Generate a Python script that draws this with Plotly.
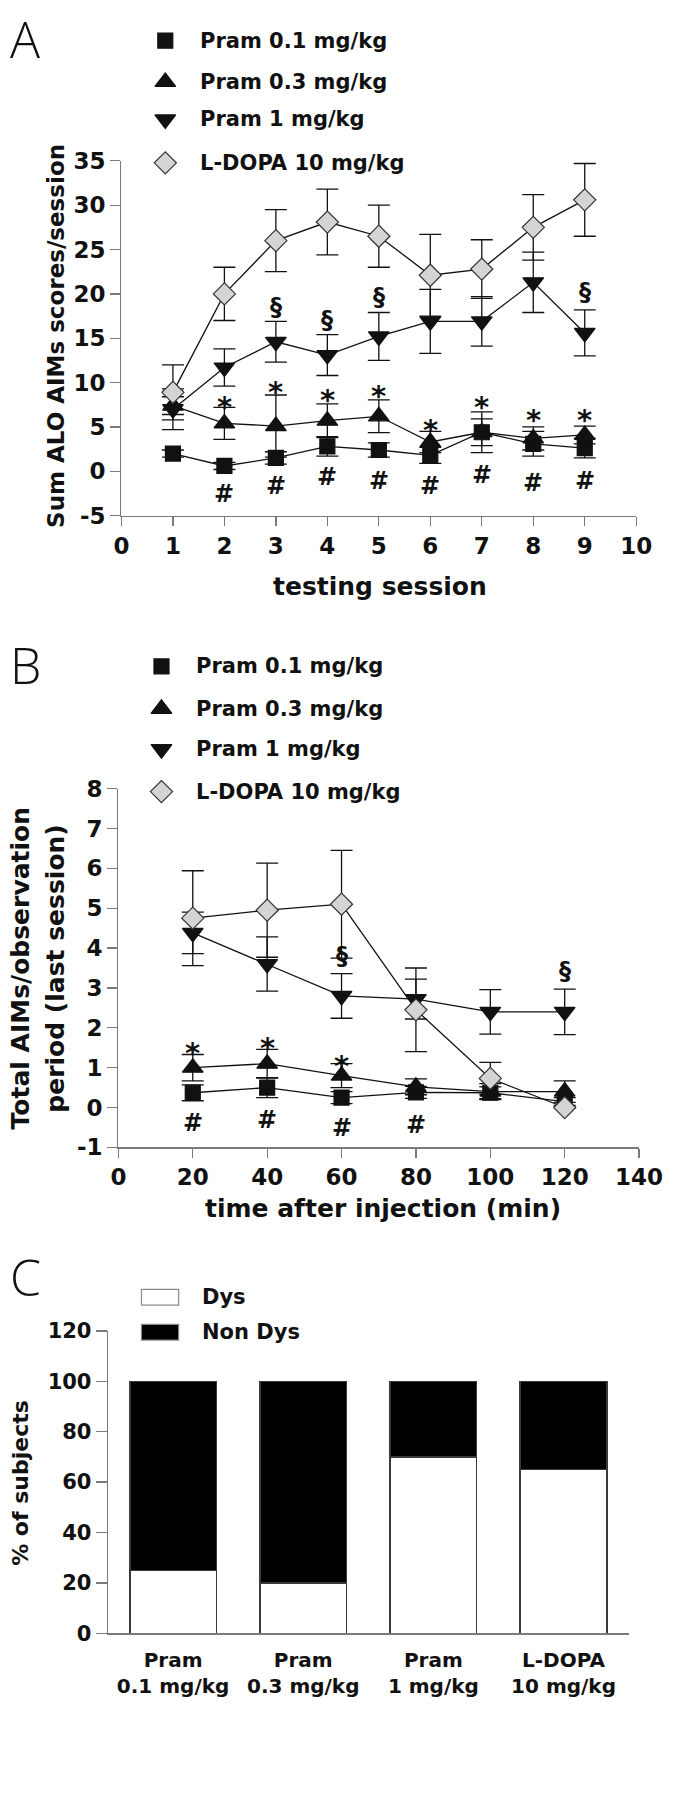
import plotly.graph_objects as go

W, H = 685, 1800

# ---------------- data ----------------
group_names = ["Pram 0.1 mg/kg", "Pram 0.3 mg/kg", "Pram 1 mg/kg", "L-DOPA 10 mg/kg"]

# Panel A : testing session
sessions = [1, 2, 3, 4, 5, 6, 7, 8, 9]
a_pram01 = [2.0, 0.6, 1.5, 2.8, 2.4, 1.8, 4.4, 3.1, 2.6]
a_pram01_sem = [0.4, 0.4, 0.7, 1.1, 0.8, 0.9, 1.5, 1.4, 1.1]
a_pram03 = [7.4, 5.4, 5.1, 5.7, 6.2, 3.3, 4.4, 3.7, 4.1]
a_pram03_sem = [1.0, 1.8, 3.5, 1.9, 1.85, 1.2, 2.3, 1.3, 1.0]
a_pram1 = [7.0, 11.7, 14.6, 13.1, 15.2, 16.9, 16.9, 21.3, 15.6]
a_pram1_sem = [2.3, 2.1, 2.3, 2.3, 2.7, 3.6, 2.8, 3.4, 2.6]
a_ldopa = [8.9, 20.0, 26.0, 28.1, 26.5, 22.1, 22.8, 27.5, 30.6]
a_ldopa_sem = [3.1, 3.0, 3.5, 3.7, 3.5, 4.6, 3.3, 3.7, 4.1]

a_sect_x = [3, 4, 5, 9]
a_sect_y = [18.5, 17.0, 19.6, 20.2]
a_star_x = [2, 3, 4, 5, 6, 7, 8, 9]
a_star_y = [8.1, 9.8, 8.9, 9.4, 5.6, 8.1, 6.7, 6.7]
a_hash_x = [2, 3, 4, 5, 6, 7, 8, 9]
a_hash_y = [-2.6, -1.7, -0.7, -1.1, -1.7, -0.4, -1.3, -1.1]

# Panel B : time after injection
times = [20, 40, 60, 80, 100, 120]
b_pram01 = [0.37, 0.50, 0.25, 0.38, 0.37, 0.15]
b_pram01_sem = [0.20, 0.25, 0.15, 0.15, 0.15, 0.10]
b_pram03 = [1.00, 1.10, 0.80, 0.52, 0.40, 0.40]
b_pram03_sem = [0.33, 0.36, 0.30, 0.20, 0.20, 0.27]
b_pram1 = [4.38, 3.60, 2.80, 2.72, 2.40, 2.40]
b_pram1_sem = [0.52, 0.68, 0.56, 0.50, 0.56, 0.57]
b_ldopa = [4.75, 4.95, 5.10, 2.45, 0.73, 0.00]
b_ldopa_sem = [1.19, 1.18, 1.35, 1.05, 0.40, 0.00]

b_star_x = [20, 40, 60]
b_star_y = [1.58, 1.70, 1.25]
b_hash_x = [20, 40, 60, 80]
b_hash_y = [-0.40, -0.32, -0.52, -0.44]
b_sect_x = [60, 120]
b_sect_y = [3.80, 3.43]

# Panel C : % of subjects
c_groups = ["Pram<br>0.1 mg/kg", "Pram<br>0.3 mg/kg", "Pram<br>1 mg/kg", "L-DOPA<br>10 mg/kg"]
c_dys = [25, 20, 70, 65]
c_nondys = [75, 80, 30, 35]

a_yticks = [-5, 0, 5, 10, 15, 20, 25, 30, 35]
a_xticks = [0, 1, 2, 3, 4, 5, 6, 7, 8, 9, 10]
b_yticks = [-1, 0, 1, 2, 3, 4, 5, 6, 7, 8]
b_xticks = [0, 20, 40, 60, 80, 100, 120, 140]
c_yticks = [0, 20, 40, 60, 80, 100, 120]

# ---------------- styling ----------------
FONT = "DejaVu Sans"
AX = "#7a7a7a"
symbols = ["square", "triangle-up", "triangle-down", "diamond"]
sizes = [15, 18, 18, 17]
fills = ["#111111", "#111111", "#111111", "#d4d4d4"]
edges = ["#111111", "#111111", "#111111", "#333333"]


def px(x):
    return x / W


def py(y):
    return 1 - y / H


fig = go.Figure()


def add_series(x, y, err, i, xa, ya):
    fig.add_trace(go.Scatter(
        x=x, y=y, mode="lines+markers", name=group_names[i], showlegend=False,
        xaxis=xa, yaxis=ya, cliponaxis=False,
        line=dict(color="#111111", width=1.3),
        marker=dict(symbol=symbols[i], size=sizes[i], color=fills[i],
                    line=dict(color=edges[i], width=1.2)),
        error_y=dict(type="data", array=err, visible=True, color="#111111",
                     thickness=1.3, width=11),
    ))


a_series = [(a_pram01, a_pram01_sem), (a_pram03, a_pram03_sem),
            (a_pram1, a_pram1_sem), (a_ldopa, a_ldopa_sem)]
for i, (m, s) in enumerate(a_series):
    add_series(sessions, m, s, i, "x", "y")

b_series = [(b_pram01, b_pram01_sem), (b_pram03, b_pram03_sem),
            (b_pram1, b_pram1_sem), (b_ldopa, b_ldopa_sem)]
for i, (m, s) in enumerate(b_series):
    add_series(times, m, s, i, "x2", "y2")

fig.add_trace(go.Bar(x=c_groups, y=c_dys, name="Dys", showlegend=False,
                     xaxis="x3", yaxis="y3", width=0.665,
                     marker=dict(color="white", line=dict(color="#3a3a3a", width=1.5))))
fig.add_trace(go.Bar(x=c_groups, y=c_nondys, name="Non Dys", showlegend=False,
                     xaxis="x3", yaxis="y3", width=0.665,
                     marker=dict(color="black", line=dict(color="#3a3a3a", width=1.5))))

# legend keys (drawn on a pixel-space overlay axis)
leg_a_rows = [28, 70, 108, 152]
leg_b_rows = [663, 706, 747, 790]
for rows, mx in ((leg_a_rows, 165), (leg_b_rows, 161)):
    for i, ry in enumerate(rows):
        fig.add_trace(go.Scatter(
            x=[mx], y=[ry], mode="markers", showlegend=False, xaxis="x4", yaxis="y4",
            marker=dict(symbol=symbols[i], size=sizes[i], color=fills[i],
                        line=dict(color=edges[i], width=1.2)),
            hoverinfo="skip"))

annotations = []
shapes = []


def txt(x, y, text, size, xanchor="center", angle=0, weight="bold", family=FONT):
    annotations.append(dict(
        x=px(x), y=py(y), xref="paper", yref="paper", text=text, showarrow=False,
        xanchor=xanchor, yanchor="middle", textangle=angle,
        font=dict(family=family, size=size, color="#111111", weight=weight)))


# legend texts
for rows, tx in ((leg_a_rows, 199), (leg_b_rows, 195)):
    for i, ry in enumerate(rows):
        txt(tx, ry, group_names[i], 21, xanchor="left")

# legend C
for ry, fill, label in ((1303, "white", "Dys"), (1338.5, "black", "Non Dys")):
    shapes.append(dict(type="rect", xref="paper", yref="paper",
                       x0=px(140), x1=px(179), y0=py(ry - 8), y1=py(ry + 8),
                       fillcolor=fill, line=dict(color="#8a8a8a", width=1.2)))
    txt(201, ry, label, 21, xanchor="left")

# panel letters
txt(0, 26, "A", 50, xanchor="left", weight=300, family="Open Sans")
txt(0, 662, "B", 50, xanchor="left", weight=300, family="Open Sans")
txt(0, 1283, "C", 50, xanchor="left", weight=300, family="Open Sans")

# axis titles
txt(390, 582, "testing session", 25)
txt(51, 328, "Sum ALO AIMs scores/session", 23, angle=-90)
txt(393, 1213, "time after injection (min)", 25)
txt(13, 969, "Total AIMs/observation", 25, angle=-90)
txt(49, 969, "period (last session)", 25, angle=-90)
txt(13, 1491, "% of subjects", 22, angle=-90)


# significance marks
def marks(xs, ys, sym, xref, yref, size=24, shift=0):
    for x, y in zip(xs, ys):
        annotations.append(dict(
            x=x, y=y, xref=xref, yref=yref, text=sym, showarrow=False,
            xanchor="center", yanchor="middle", yshift=shift,
            font=dict(family=FONT, size=size, color="#111111", weight="bold")))


marks(a_sect_x, a_sect_y, "§", "x", "y")
marks(a_star_x, a_star_y, "*", "x", "y", size=29, shift=-8)
marks(a_hash_x, a_hash_y, "#", "x", "y")
marks(b_star_x, b_star_y, "*", "x2", "y2", size=29, shift=-8)
marks(b_hash_x, b_hash_y, "#", "x2", "y2")
marks(b_sect_x, b_sect_y, "§", "x2", "y2")


def axis_style(**kw):
    d = dict(showline=True, linecolor=AX, linewidth=1.3, ticks="outside",
             tickcolor=AX, tickwidth=1.3, ticklen=10, showgrid=False, zeroline=False,
             tickfont=dict(family=FONT, size=23, color="#111111", weight="bold"),
             fixedrange=True)
    d.update(kw)
    return d


def labels(vals):
    return [str(v) for v in vals]


fig.update_layout(
    width=W, height=H, margin=dict(l=0, r=0, t=0, b=0),
    paper_bgcolor="white", plot_bgcolor="rgba(0,0,0,0)",
    barmode="stack", showlegend=False,
    xaxis=axis_style(domain=[px(119), px(659)], range=[0, 10], anchor="y",
                     tickvals=a_xticks, ticktext=labels(a_xticks), ticklen=9),
    yaxis=axis_style(domain=[py(510), py(150)], range=[-5, 35], anchor="x",
                     tickvals=a_yticks, ticktext=labels(a_yticks)),
    xaxis2=axis_style(domain=[px(115.8), px(662)], range=[0, 140], anchor="y2",
                      tickvals=b_xticks, ticktext=labels(b_xticks), ticklen=9),
    yaxis2=axis_style(domain=[py(1151), py(787)], range=[-1, 8], anchor="x2",
                      tickvals=b_yticks, ticktext=labels(b_yticks)),
    xaxis3=axis_style(domain=[px(104.9), px(651)], range=[-0.5, 3.5], anchor="y3",
                      ticks="outside", ticklen=8, tickcolor="rgba(0,0,0,0)",
                      tickfont=dict(family=FONT, size=20, color="#111111",
                                    weight="bold")),
    yaxis3=axis_style(domain=[py(1644), py(1337.3)], range=[0, 120], anchor="x3",
                      tickvals=c_yticks, ticktext=labels(c_yticks), ticklen=11,
                      tickfont=dict(family=FONT, size=21, color="#111111", weight="bold")),
    xaxis4=dict(domain=[0, 1], range=[0, W], visible=False, fixedrange=True, anchor="y4"),
    yaxis4=dict(domain=[0, 1], range=[H, 0], visible=False, fixedrange=True, anchor="x4"),
    annotations=annotations,
    shapes=shapes,
)

# remove the browser's default page margin so the figure sits at the page origin
fig.write_html("out.html", config={"displayModeBar": False, "staticPlot": True},
               post_script="document.body.style.margin='0';")
